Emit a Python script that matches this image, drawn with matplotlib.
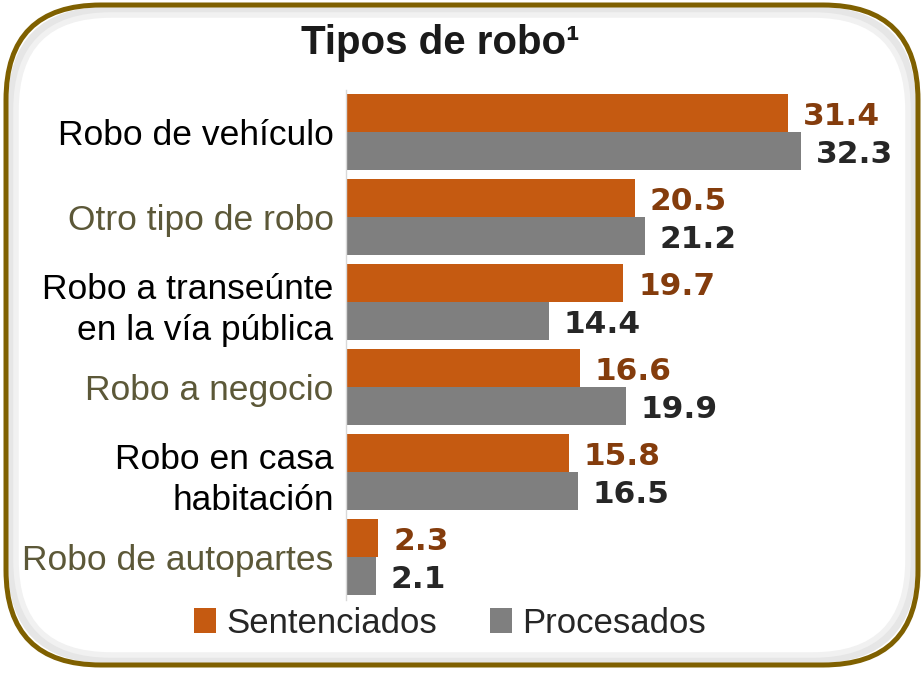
import matplotlib.pyplot as plt
from matplotlib.patches import FancyBboxPatch

categorias = ["Robo de vehículo", "Otro tipo de robo", "Robo a transeúnte\nen la vía pública",
              "Robo a negocio", "Robo en casa\nhabitación", "Robo de autopartes"]
sentenciados = [31.4, 20.5, 19.7, 16.6, 15.8, 2.3]
procesados = [32.3, 21.2, 14.4, 19.9, 16.5, 2.1]
colores_etiqueta = ["#000000", "#5C5838", "#000000", "#5C5838", "#000000", "#5C5838"]

NARANJA = "#C55A11"
GRIS = "#7F7F7F"


def main():
    plt.rcParams["font.family"] = ["Liberation Sans", "DejaVu Sans"]
    fig = plt.figure(figsize=(9.24, 6.73), dpi=100)

    # marco redondeado en pixeles
    bg = fig.add_axes([0, 0, 1, 1])
    bg.set_xlim(0, 924)
    bg.set_ylim(0, 673)
    bg.axis("off")
    r = 95
    for pad, lw, col in [(6, 6, "#E6E6E6"), (10, 4, "#F1F1F1")]:
        bg.add_patch(FancyBboxPatch((6 + r + pad, 8 + r + pad), 912 - 2 * r - 2 * pad, 660 - 2 * r - 2 * pad,
                                    boxstyle=f"round,pad={r},rounding_size={r}", fill=False,
                                    ec=col, lw=lw, zorder=1))
    bg.add_patch(FancyBboxPatch((6 + r, 8 + r), 912 - 2 * r, 660 - 2 * r,
                                boxstyle=f"round,pad={r},rounding_size={r}", fill=False,
                                ec="#7F6000", lw=3.6, zorder=2))

    ax = fig.add_axes([0.3745, 0.1085, 0.578, 0.758])
    ax.patch.set_alpha(0)
    y = list(range(len(categorias)))
    h = 0.447
    b1 = ax.barh([i - h / 2 for i in y], sentenciados, height=h, color=NARANJA, label="Sentenciados")
    b2 = ax.barh([i + h / 2 for i in y], procesados, height=h, color=GRIS, label="Procesados")

    for bar, v in zip(b1, sentenciados):
        ax.annotate(f"{v:.1f}", (v, bar.get_y() + bar.get_height() / 2), xytext=(10.5, -2),
                    textcoords="offset points", va="center", ha="left", fontsize=22.5,
                    fontweight="bold", color="#843C0C", family="DejaVu Sans")
    for bar, v in zip(b2, procesados):
        ax.annotate(f"{v:.1f}", (v, bar.get_y() + bar.get_height() / 2), xytext=(10.5, -2),
                    textcoords="offset points", va="center", ha="left", fontsize=22.5,
                    fontweight="bold", color="#262626", family="DejaVu Sans")

    ax.set_xlim(0, 37.93)
    ax.set_ylim(5.5, -0.5)
    ax.set_xticks([])
    ax.set_yticks(y)
    ax.set_yticklabels(categorias, fontsize=25.5, linespacing=1.3)
    for lbl, c in zip(ax.get_yticklabels(), colores_etiqueta):
        lbl.set_color(c)
    ax.tick_params(axis="y", length=0, pad=9)
    for s in ["top", "right", "bottom"]:
        ax.spines[s].set_visible(False)
    ax.spines["left"].set_color("#D9D9D9")
    ax.spines["left"].set_linewidth(1)

    fig.text(0.477, 0.936, "Tipos de robo¹", ha="center", va="center",
             fontsize=29, fontweight="bold", color="#1A1A1A")

    fig.legend(handles=[b1, b2], loc="center", bbox_to_anchor=(0.487, 0.074), ncol=2,
               frameon=False, fontsize=25, handlelength=0.65, handleheight=0.7,
               handletextpad=0.3, columnspacing=1.5, labelcolor="#262626")

    fig.savefig("out.png", dpi=100)


if __name__ == "__main__":
    main()
